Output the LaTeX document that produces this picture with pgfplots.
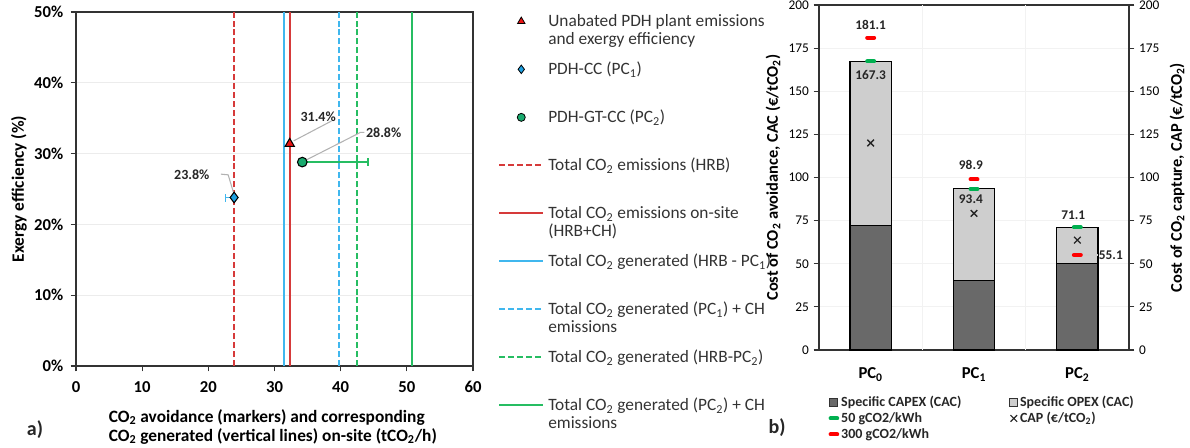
\documentclass[border=0pt]{standalone}
\usepackage{pgfplots}
\pgfplotsset{compat=1.18}
\usepackage{fontspec}
\setmainfont{Carlito}

\definecolor{hrbred}{RGB}{214,58,58}
\definecolor{pcblue}{RGB}{64,183,238}
\definecolor{pcgreen}{RGB}{38,189,98}
\definecolor{trired}{RGB}{235,20,20}
\definecolor{diablue}{RGB}{30,160,225}
\definecolor{circgreen}{RGB}{25,170,110}
\definecolor{capex}{RGB}{105,105,105}
\definecolor{opex}{RGB}{206,206,206}
\definecolor{mkgreen}{RGB}{0,176,80}
\definecolor{mkred}{RGB}{255,0,0}

\newcommand{\ctwo}{CO\textsubscript{2}}
\newcommand{\fs}[2]{\fontsize{#1}{#2}\selectfont}
% legend text box: baseline on first line
\newcommand{\lgd}[1]{\parbox[t]{200pt}{#1}}

\begin{document}
\begin{tikzpicture}
\useasboundingbox (0,0) rectangle (892.5pt,-335.25pt);

% ---------------- a) exergy efficiency vs CO2 ----------------
\begin{axis}[
  at={(57pt,-274.5pt)}, anchor=south west,
  scale only axis, width=297.75pt, height=265.5pt,
  xmin=0, xmax=60, ymin=0, ymax=50,
  xtick={0,10,...,60}, ytick={0,10,...,50},
  yticklabel={\pgfmathprintnumber{\tick}\%},
  /pgf/number format/assume math mode=true,
  tick align=outside, tick pos=left, major tick length=4pt,
  tick style={black!80, line width=0.8pt},
  xticklabel style={font=\fs{12.5pt}{14pt}\bfseries, yshift=-4pt},
  yticklabel style={font=\fs{12.5pt}{14pt}\bfseries, xshift=-2pt},
  ymajorgrids, major grid style={gray!15, line width=0.6pt},
  axis line style={black!80, line width=0.9pt},
  xlabel={\ctwo{} avoidance (markers) and corresponding\\\ctwo{} generated (vertical lines) on-site (tCO\textsubscript{2}/h)},
  xlabel style={font=\fs{13pt}{14pt}\bfseries, align=left, at={(axis description cs:0.496,-0.11)}, anchor=north},
  ylabel={Exergy efficiency (\%)},
  ylabel style={font=\fs{13pt}{15pt}\bfseries, at={(axis description cs:-0.144,0.5)}, anchor=center, rotate=0},
  legend image code/.code={\draw[mark repeat=2,mark phase=2,#1] plot coordinates {(0pt,0pt) (16.5pt,0pt) (33pt,0pt)};},
  legend image post style={yshift=4.2pt},
  legend style={at={(axis description cs:1.063,1.0)}, anchor=north west,
    draw=none, fill=none, inner sep=0pt, row sep=0pt,
    font=\fs{13pt}{13pt}\color{black!80}, cells={anchor=base west},
    nodes={inner xsep=3pt, inner ysep=2pt, text height=9pt, text depth=23pt}},
]
% vertical lines of CO2 generated
\addplot[forget plot, hrbred, line width=1.5pt, dash pattern=on 4.5pt off 2.2pt] coordinates {(23.9,0) (23.9,50)};
\addplot[forget plot, pcblue, line width=1.5pt] coordinates {(31.4,0) (31.4,50)};
\addplot[forget plot, hrbred, line width=1.5pt] coordinates {(32.3,0) (32.3,50)};
\addplot[forget plot, pcblue, line width=1.5pt, dash pattern=on 4.5pt off 2.2pt] coordinates {(39.8,0) (39.8,50)};
\addplot[forget plot, pcgreen, line width=1.5pt, dash pattern=on 4.5pt off 2.2pt] coordinates {(42.4,0) (42.4,50)};
\addplot[forget plot, pcgreen, line width=1.5pt] coordinates {(50.8,0) (50.8,50)};

% error bars
\addplot[forget plot, draw=none, mark=none,
  error bars/.cd, x dir=minus, x explicit, error mark=|,
  error bar style={pcblue, line width=1.3pt},
  error mark options={pcblue, line width=1.3pt, mark size=3pt}]
  coordinates {(23.9,23.8) +- (1.3,0)};
\addplot[forget plot, draw=none, mark=none,
  error bars/.cd, x dir=plus, x explicit, error mark=|,
  error bar style={pcgreen, line width=1.5pt},
  error mark options={pcgreen, line width=1.5pt, mark size=3pt}]
  coordinates {(34.2,28.8) +- (10.0,0)};

% leader lines and value labels
\draw[gray!60, line width=0.8pt] (axis cs:32.9,31.8) -- (axis cs:38.6,34.6);
\draw[gray!60, line width=0.8pt] (axis cs:34.8,29.1) -- (axis cs:43.0,33.0) -- (axis cs:43.6,33.0);
\draw[gray!60, line width=0.8pt] (axis cs:21.9,27.1) -- (axis cs:23.0,27.0) -- (axis cs:23.8,24.5);
\node[font=\fs{10.5pt}{12pt}\bfseries, black!85] at (axis cs:36.6,35.2) {31.4\%};
\node[font=\fs{10.5pt}{12pt}\bfseries, black!85] at (axis cs:46.5,32.9) {28.8\%};
\node[font=\fs{10.5pt}{12pt}\bfseries, black!85] at (axis cs:17.5,27.0) {23.8\%};

% markers
\addplot[forget plot, only marks, mark=triangle*, mark size=4pt, mark options={fill=trired, draw=black, line width=0.8pt}] coordinates {(32.3,31.4)};
\addplot[forget plot, only marks, mark=diamond*, mark size=4pt, mark options={fill=diablue, draw=black, line width=0.8pt}] coordinates {(23.9,23.8)};
\addplot[forget plot, only marks, mark=*, mark size=3.6pt, mark options={fill=circgreen, draw=black, line width=0.8pt}] coordinates {(34.2,28.8)};

% legend
\addlegendimage{only marks, mark=triangle*, mark size=3.2pt, mark options={fill=trired, draw=black, line width=0.6pt}}
\addlegendentry{\lgd{Unabated PDH plant emissions\\and exergy efficiency}}
\addlegendimage{only marks, mark=diamond*, mark size=3.2pt, mark options={fill=diablue, draw=black, line width=0.6pt}}
\addlegendentry{\lgd{PDH-CC (PC\textsubscript{1})}}
\addlegendimage{only marks, mark=*, mark size=3pt, mark options={fill=circgreen, draw=black, line width=0.6pt}}
\addlegendentry{\lgd{PDH-GT-CC (PC\textsubscript{2})}}
\addlegendimage{hrbred, line width=1.5pt, dash pattern=on 4.5pt off 2.2pt}
\addlegendentry{\lgd{Total \ctwo{} emissions (HRB)}}
\addlegendimage{hrbred, line width=1.5pt}
\addlegendentry{\lgd{Total \ctwo{} emissions on-site\\(HRB+CH)}}
\addlegendimage{pcblue, line width=1.5pt}
\addlegendentry{\lgd{Total \ctwo{} generated (HRB - PC\textsubscript{1})}}
\addlegendimage{pcblue, line width=1.5pt, dash pattern=on 4.5pt off 2.2pt}
\addlegendentry{\lgd{Total \ctwo{} generated (PC\textsubscript{1}) + CH\\emissions}}
\addlegendimage{pcgreen, line width=1.5pt, dash pattern=on 4.5pt off 2.2pt}
\addlegendentry{\lgd{Total \ctwo{} generated (HRB-PC\textsubscript{2})}}
\addlegendimage{pcgreen, line width=1.5pt}
\addlegendentry{\lgd{Total \ctwo{} generated (PC\textsubscript{2}) + CH\\emissions}}
\end{axis}

\node[font=\fs{15pt}{16pt}\bfseries, black!85] at (26.25pt,-322.5pt) {a)};
\node[font=\fs{15pt}{16pt}\bfseries, black!85] at (582.75pt,-321pt) {b)};

% ---------------- b) cost bars ----------------
\begin{axis}[
  at={(614.25pt,-262.5pt)}, anchor=south west,
  scale only axis, width=232.5pt, height=258.75pt,
  ybar stacked, bar width=0.4,
  xmin=-0.5, xmax=2.5, ymin=0, ymax=200,
  xtick={0,1,2}, xticklabels={PC\textsubscript{0},PC\textsubscript{1},PC\textsubscript{2}},
  x tick style={draw=none},
  xticklabel style={font=\fs{12.5pt}{14pt}\bfseries, yshift=-6pt},
  ytick={0,25,...,200}, ytick pos=left,
  tick align=outside, major tick length=4pt,
  y tick style={black!80, line width=0.8pt},
  yticklabel style={font=\fs{10pt}{12pt}},
  /pgf/number format/assume math mode=true,
  ymajorgrids, major grid style={gray!10, line width=0.6pt},
  extra x ticks={0.5,1.5}, extra x tick labels={},
  extra x tick style={grid=major, major grid style={gray!10, line width=0.6pt}, tick style={draw=none}},
  axis line style={black!80, line width=0.9pt},
  ylabel={Cost of \ctwo{} avoidance, CAC (€/tCO\textsubscript{2})},
  ylabel style={font=\fs{12.3pt}{14pt}\bfseries, at={(axis description cs:-0.148,0.5)}, anchor=center},
]
\addplot[fill=capex, draw=black, line width=0.9pt] coordinates {(0,72.0) (1,40.5) (2,50.0)};
\addplot[fill=opex, draw=black, line width=0.9pt] coordinates {(0,95.3) (1,52.9) (2,21.1)};
\end{axis}

\begin{axis}[
  at={(614.25pt,-262.5pt)}, anchor=south west,
  scale only axis, width=232.5pt, height=258.75pt,
  xmin=-0.5, xmax=2.5, ymin=0, ymax=200,
  axis x line=none, axis y line*=right,
  ytick={0,25,...,200},
  tick align=outside, major tick length=4pt,
  y tick style={black!80, line width=0.8pt},
  yticklabel style={font=\fs{10pt}{12pt}},
  /pgf/number format/assume math mode=true,
  axis line style={black!80, line width=0.9pt},
  ylabel={Cost of \ctwo{} capture, CAP (€/tCO\textsubscript{2})},
  every axis y label/.style={font=\fs{12.3pt}{14pt}\bfseries, at={(axis description cs:1.155,0.5)}, anchor=center, rotate=90},
  legend columns=2,
  legend cell align=left,
  legend style={at={(axis description cs:0.03,-0.128)}, anchor=north west,
    draw=none, fill=none, inner sep=0pt, row sep=0pt,
    font=\fs{10.5pt}{12pt}\bfseries\color{black!85},
    nodes={inner xsep=1.5pt, inner ysep=1pt, text height=8pt, text depth=2pt},
    /tikz/every even column/.append style={column sep=34pt}},
]
\addlegendimage{legend image code/.code={\draw[fill=capex, draw=black!80, line width=0.6pt] (0pt,-3.2pt) rectangle (6.4pt,3.2pt);}}
\addlegendentry{Specific CAPEX (CAC)}
\addlegendimage{legend image code/.code={\draw[fill=opex, draw=black!80, line width=0.6pt] (0pt,-3.2pt) rectangle (6.4pt,3.2pt);}}
\addlegendentry{Specific OPEX (CAC)}

% 50 gCO2/kWh
\addplot[only marks, mark=-, mark size=2.6pt, mark options={mkgreen, line width=3pt, line cap=round},
  legend image code/.code={\draw[mkgreen, line width=3pt, line cap=round] (1pt,0pt) -- (6pt,0pt);}]
  coordinates {(0,167.3) (1,93.4) (2,71.1)};
\addlegendentry{50 gCO2/kWh}
% CAP
\addplot[only marks, mark=x, mark size=3.5pt, mark options={black!85, line width=1pt},
  legend image code/.code={\draw[mark=x, mark size=3.5pt, mark options={black!85, line width=0.9pt}] plot coordinates {(3.5pt,0pt)};}]
  coordinates {(0,120.0) (1,79.2) (2,63.7)};
\addlegendentry{CAP (€/tCO\textsubscript{2})}
% 300 gCO2/kWh
\draw[gray!40, line width=1.2pt] (axis cs:2.06,55.1) -- (axis cs:2.2,55.1);
\addplot[only marks, mark=-, mark size=2.6pt, mark options={mkred, line width=3pt, line cap=round},
  legend image code/.code={\draw[mkred, line width=3pt, line cap=round] (1pt,0pt) -- (6pt,0pt);}]
  coordinates {(0,181.1) (1,98.9) (2,55.1)};
\addlegendentry{300 gCO2/kWh}

\node[font=\fs{10pt}{12pt}\bfseries, black!85] at (axis cs:0,188.5) {181.1};
\node[font=\fs{10pt}{12pt}\bfseries, black!85] at (axis cs:0,159.3) {167.3};
\node[font=\fs{10pt}{12pt}\bfseries, black!85] at (axis cs:0.97,107.2) {98.9};
\node[font=\fs{10pt}{12pt}\bfseries, black!85] at (axis cs:0.97,87.5) {93.4};
\node[font=\fs{10pt}{12pt}\bfseries, black!85] at (axis cs:1.96,78.4) {71.1};
\node[font=\fs{10pt}{12pt}\bfseries, black!85, anchor=west, inner sep=0.5pt] at (axis cs:2.2,54.8) {55.1};
\end{axis}
\end{tikzpicture}
\end{document}
